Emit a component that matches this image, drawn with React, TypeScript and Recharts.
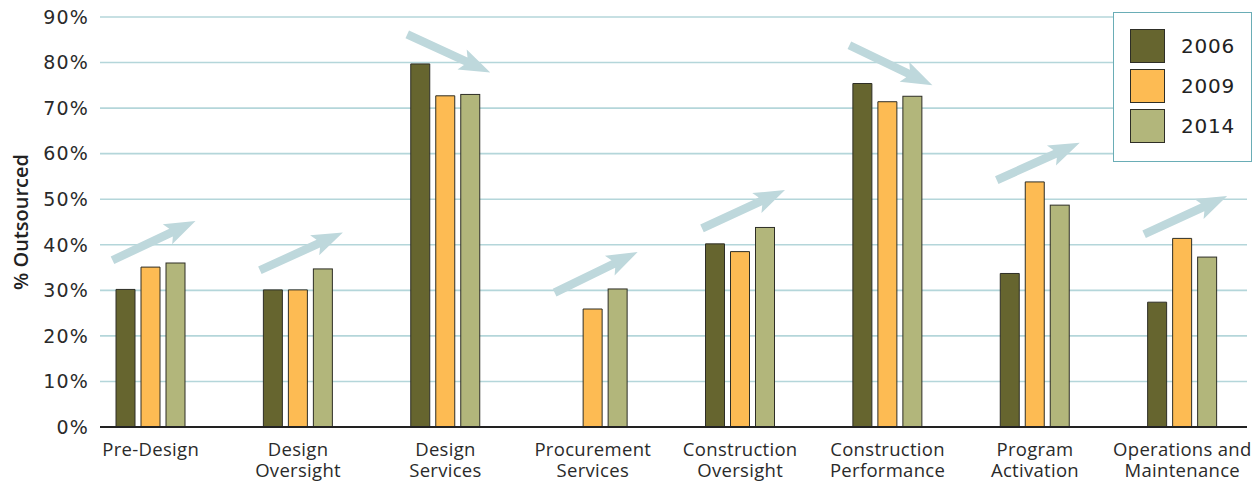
import React from "react";
import { Bar, BarChart, CartesianGrid, Legend, XAxis, YAxis } from "recharts";

// Share of work outsourced, by project phase and survey year (%).
const categories = [
  "Pre-Design",
  "Design\nOversight",
  "Design\nServices",
  "Procurement\nServices",
  "Construction\nOversight",
  "Construction\nPerformance",
  "Program\nActivation",
  "Operations and\nMaintenance",
];
const values2006 = [30.2, 30.1, 79.7, null, 40.2, 75.4, 33.7, 27.4];
const values2009 = [35.1, 30.1, 72.7, 25.9, 38.5, 71.4, 53.8, 41.4];
const values2014 = [36.0, 34.7, 73.0, 30.3, 43.8, 72.6, 48.7, 37.3];

// Trend arrows: tail and head level (%) drawn over each group.
const trendFrom = [36.6, 34.4, 86.2, 29.5, 43.6, 83.8, 54.2, 42.3];
const trendTo = [45.2, 42.7, 77.8, 38.4, 52.0, 75.0, 62.4, 50.7];

const yTicks = [0, 10, 20, 30, 40, 50, 60, 70, 80, 90];

const SERIES = [
  { key: "y2006", name: "2006", color: "#66652f" },
  { key: "y2009", name: "2009", color: "#fdbb53" },
  { key: "y2014", name: "2014", color: "#b2b67b" },
];

const BAR_SIZE = 19;
const BAR_GAP = 6;
const NUM_FONT = "'DejaVu Sans', sans-serif";
const TEXT_FONT = "'Open Sans', sans-serif";

const data = categories.map((label, i) => ({
  label,
  y2006: values2006[i],
  y2009: values2009[i],
  y2014: values2014[i],
  trendFrom: trendFrom[i],
  trendTo: trendTo[i],
}));

// Two-line category labels, one <text> per line.
function CategoryTick({ x, y, payload }: any) {
  const lines = String(payload.value).split("\n");
  return (
    <g>
      {lines.map((line, i) => (
        <text
          key={line}
          x={x}
          y={y + 29 + i * 20.5}
          textAnchor="middle"
          fill="#2a2a2a"
          fontFamily={TEXT_FONT}
          fontSize={18.5}
          letterSpacing={0.3}
        >
          {line}
        </text>
      ))}
    </g>
  );
}

// Arrow polygon from tail to tip, shaft and head widths in px.
function arrowPoints(x0: number, y0: number, x1: number, y1: number) {
  const len = Math.hypot(x1 - x0, y1 - y0);
  const ux = (x1 - x0) / len;
  const uy = (y1 - y0) / len;
  const nx = -uy;
  const ny = ux;
  const shaft = 4.2;
  const head = 11;
  const headLen = 27;
  const bx = x1 - ux * headLen;
  const by = y1 - uy * headLen;
  const pts = [
    [x0 + nx * shaft, y0 + ny * shaft],
    [bx + nx * shaft, by + ny * shaft],
    [bx + nx * head - ux * 4, by + ny * head - uy * 4],
    [x1, y1],
    [bx - nx * head - ux * 4, by - ny * head - uy * 4],
    [bx - nx * shaft, by - ny * shaft],
    [x0 - nx * shaft, y0 - ny * shaft],
  ];
  return pts.map((p) => p.join(",")).join(" ");
}

// Last bar of each group also carries the group's trend arrow,
// placed with the bar's own pixel-per-percent ratio.
function BarWithTrend(props: any) {
  const { x, y, width, height, fill, payload, value } = props;
  const v = Array.isArray(value) ? value[1] - value[0] : value;
  const unit = v ? height / v : 0;
  const base = y + height;
  const groupCenter = x + width / 2 - (BAR_SIZE + BAR_GAP);
  const tailX = groupCenter - 38;
  const tipX = groupCenter + 45;
  const tailY = base - payload.trendFrom * unit;
  const tipY = base - payload.trendTo * unit;
  return (
    <g>
      <rect
        x={x}
        y={y}
        width={width}
        height={height}
        fill={fill}
        stroke="#2e2e26"
        strokeWidth={1}
      />
      <polygon points={arrowPoints(tailX, tailY, tipX, tipY)} fill="#bed8dc" />
    </g>
  );
}

function YearLegend() {
  return (
    <div
      style={{
        boxSizing: "border-box",
        width: 139,
        height: 150,
        border: "1.5px solid #6aadb6",
        background: "#ffffff",
        padding: "16px 0 0 16px",
      }}
    >
      {SERIES.map((s) => (
        <div
          key={s.key}
          style={{ display: "flex", alignItems: "center", height: 34, marginBottom: 6 }}
        >
          <span
            style={{
              boxSizing: "border-box",
              width: 35,
              height: 34,
              background: s.color,
              border: "1px solid #2e2e26",
            }}
          />
          <span
            style={{
              marginLeft: 16,
              fontFamily: NUM_FONT,
              fontSize: 20,
              letterSpacing: 0.8,
              color: "#222",
            }}
          >
            {s.name}
          </span>
        </div>
      ))}
    </div>
  );
}

export default function App() {
  return (
    <div style={{ position: "absolute", left: 0, top: 0, background: "#fff" }}>
      <BarChart
        width={1260}
        height={483}
        data={data}
        margin={{ top: 17, right: 13, bottom: 0, left: 0 }}
        barSize={BAR_SIZE}
        barGap={BAR_GAP}
      >
        <CartesianGrid
          horizontal
          vertical={false}
          stroke="#b4d6da"
          strokeWidth={1.6}
        />
        <XAxis
          dataKey="label"
          height={56}
          padding={{ left: -23, right: -9 }}
          tickLine={false}
          tickSize={0}
          tickMargin={0}
          interval={0}
          axisLine={{ stroke: "#222", strokeWidth: 2 }}
          tick={<CategoryTick />}
        />
        <YAxis
          width={100}
          domain={[0, 90]}
          ticks={yTicks}
          interval={0}
          tickFormatter={(v) => `${v}%`}
          axisLine={false}
          tickLine={false}
          tickSize={0}
          tickMargin={11}
          tick={{
            fill: "#2a2a2a",
            fontSize: 19,
            fontFamily: NUM_FONT,
            letterSpacing: 1.2,
          }}
          label={{
            value: "% Outsourced",
            angle: -90,
            position: "center",
            dx: -29,
            style: {
              fontFamily: TEXT_FONT,
              fontWeight: 600,
              fontSize: 20,
              fill: "#222",
            },
          }}
        />
        <Legend
          layout="vertical"
          align="center"
          verticalAlign="middle"
          content={() => <YearLegend />}
          wrapperStyle={{ left: 1113, top: 12, width: 139, height: 150 }}
        />
        <Bar
          dataKey="y2006"
          name="2006"
          fill={SERIES[0].color}
          stroke="#2e2e26"
          strokeWidth={1}
          isAnimationActive={false}
        />
        <Bar
          dataKey="y2009"
          name="2009"
          fill={SERIES[1].color}
          stroke="#2e2e26"
          strokeWidth={1}
          isAnimationActive={false}
        />
        <Bar
          dataKey="y2014"
          name="2014"
          fill={SERIES[2].color}
          isAnimationActive={false}
          shape={<BarWithTrend />}
        />
      </BarChart>
    </div>
  );
}
